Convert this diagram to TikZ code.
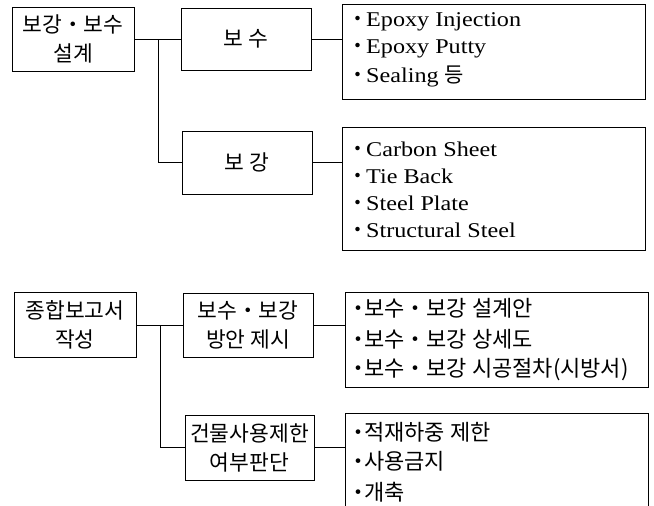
\documentclass[tikz,border=0pt]{standalone}
\usepackage{fontspec}
\setmainfont{Liberation Serif}[FakeStretch=1.15]
\newfontfamily\kr{Noto Sans CJK KR}
\newcommand{\kdot}{{\kr ・}\hspace{-2pt}}
\begin{document}
\begin{tikzpicture}[x=1pt,y=-1pt,
  box/.style={draw,line width=0.9pt,inner sep=0pt,align=center,font=\kr\fontsize{21.5}{29}\selectfont},
  listbox/.style={draw,line width=0.9pt,inner sep=0pt},
  entxt/.style={anchor=west,inner sep=0pt,font=\fontsize{21}{24}\selectfont},
  krtxt/.style={anchor=west,inner sep=0pt,font=\kr\fontsize{22}{24}\selectfont},
  conn/.style={line width=0.9pt}]
\useasboundingbox (0,0) rectangle (654,506);
\clip (0,0) rectangle (654,506);
% top section
\node[box,minimum width=122pt,minimum height=64pt] (A) at (73,39) {보강・보수\\설계};
\node[box,minimum width=130pt,minimum height=62pt] (B) at (246,39) {보 수};
\node[box,minimum width=130pt,minimum height=63pt] (C) at (247,162.5) {보 강};
\node[listbox,minimum width=303pt,minimum height=95pt] (L1) at (493.5,51.5) {};
\node[listbox,minimum width=303pt,minimum height=123pt] (L2) at (493.5,188.5) {};
\node[entxt] (l1a) at (347,22) {\kdot Epoxy Injection};
\node[entxt] (l1b) at (347,49) {\kdot Epoxy Putty};
\node[entxt] (l1c) at (347,76) {\kdot Sealing {\kr\fontsize{21}{24}\selectfont 등}};
\node[entxt] (l2a) at (347,149) {\kdot Carbon Sheet};
\node[entxt] (l2b) at (347,176) {\kdot Tie Back};
\node[entxt] (l2c) at (347,203) {\kdot Steel Plate};
\node[entxt] (l2d) at (347,230) {\kdot Structural Steel};
\coordinate (j1) at (158,39);
\draw[conn] (A.east) -- (B.west);
\draw[conn] (j1) |- (C.west);
\draw[conn] (B.east) -- (B.east -| L1.west);
\draw[conn] (C.east) -- (C.east -| L2.west);
% bottom section
\node[box,minimum width=122pt,minimum height=65pt] (D) at (75,325) {종합보고서\\작성};
\node[box,minimum width=130pt,minimum height=64pt] (E) at (248,325) {보수・보강\\방안 제시};
\node[box,minimum width=129pt,minimum height=65pt] (F) at (249.5,447.5) {건물사용제한\\여부판단};
\node[listbox,minimum width=303pt,minimum height=95pt] (L3) at (496.5,339.5) {};
\node[listbox,minimum width=303pt,minimum height=99pt] (L4) at (496.5,462.5) {};
\node[krtxt] (l3a) at (347,308) {・\hspace{-5pt}보수・보강 설계안};
\node[krtxt] (l3b) at (347,339) {・\hspace{-5pt}보수・보강 상세도};
\node[krtxt] (l3c) at (347,370) {・\hspace{-5pt}보수・보강 시공절차(시방서)};
\node[krtxt] (l4a) at (347,432) {・\hspace{-5pt}적재하중 제한};
\node[krtxt] (l4b) at (347,461) {・\hspace{-5pt}사용금지};
\node[krtxt] (l4c) at (347,492) {・\hspace{-5pt}개축};
\coordinate (j2) at (160,325);
\draw[conn] (D.east) -- (E.west);
\draw[conn] (j2) |- (F.west);
\draw[conn] (E.east) -- (E.east -| L3.west);
\draw[conn] (F.east) -- (F.east -| L4.west);
\end{tikzpicture}
\end{document}
